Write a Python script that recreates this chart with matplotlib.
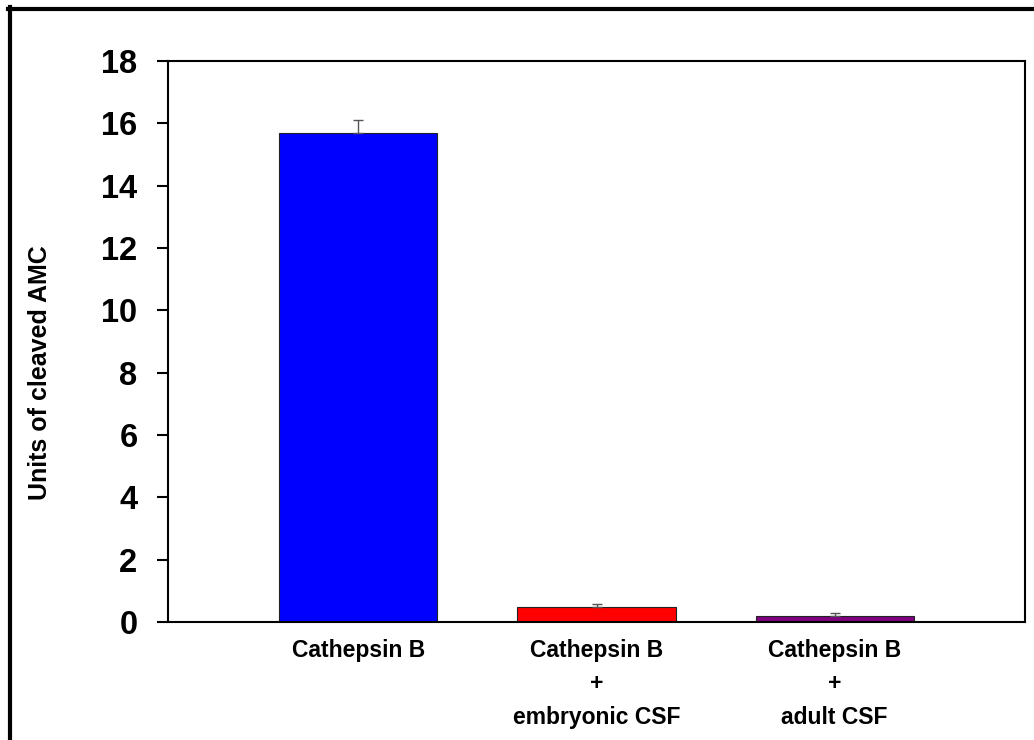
import matplotlib
matplotlib.use("Agg")
import matplotlib.pyplot as plt
from matplotlib.lines import Line2D

# data
categories = ["Cathepsin B", "Cathepsin B\n+\nembryonic CSF", "Cathepsin B\n+\nadult CSF"]
values = [15.7, 0.48, 0.18]
errors = [0.4, 0.1, 0.12]
colors = ["#0000FF", "#FF0000", "#800080"]
yticks = [0, 2, 4, 6, 8, 10, 12, 14, 16, 18]

plt.rcParams['font.family'] = ['Liberation Sans', 'DejaVu Sans']

fig = plt.figure(figsize=(10.34, 7.4), dpi=100)
ax = fig.add_axes([168 / 1034, 118 / 740, (1025 - 168) / 1034, (622 - 61) / 740])

x = list(range(len(categories)))
ax.bar(x, values, width=0.664, color=colors, edgecolor="#222222", linewidth=0.8, zorder=2)
ax.errorbar(x, values, yerr=[[0] * len(errors), errors], fmt="none",
            ecolor="#555555", elinewidth=1, capsize=3.5, capthick=1, zorder=3)

ax.set_xlim(-0.8, 2.8)
ax.set_ylim(0, 18)
ax.set_yticks(yticks)
ax.set_yticklabels([str(t) for t in yticks], fontsize=23.5, fontweight="bold")
ax.set_xticks(x)
ax.set_xticklabels(categories, fontsize=16.5, fontweight="bold", linespacing=1.58)
ax.tick_params(axis="y", direction="out", length=8, width=1.5, pad=14)
ax.tick_params(axis="x", length=0, pad=12)
for s in ax.spines.values():
    s.set_linewidth(1.5)
    s.set_color("black")

fig.text(40 / 1034, 1 - 373 / 740, "Units of cleaved AMC", rotation=90,
         ha="center", va="center", fontsize=18, fontweight="bold")

# outer frame (top and left edges visible in the reference)
fig.add_artist(Line2D([8 / 1034, 1.0], [1 - 9 / 740, 1 - 9 / 740],
                      transform=fig.transFigure, color="black", linewidth=3))
fig.add_artist(Line2D([10 / 1034, 10 / 1034], [0, 1 - 7 / 740],
                      transform=fig.transFigure, color="black", linewidth=3))

fig.savefig("out.png", dpi=100)
